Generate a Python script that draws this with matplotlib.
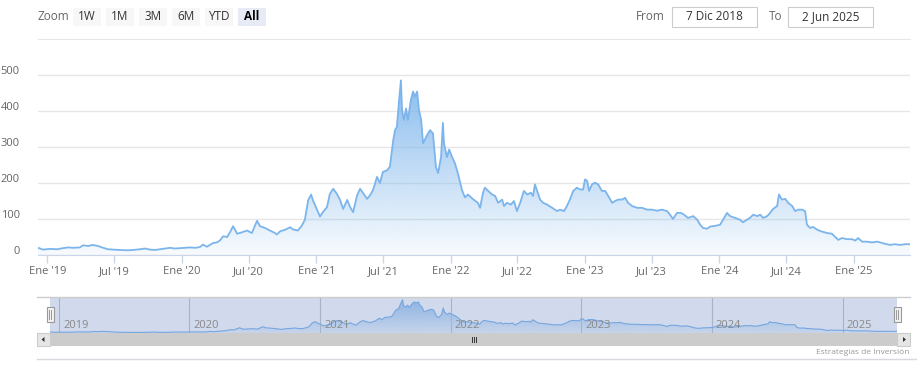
import numpy as np
import pandas as pd
import matplotlib
matplotlib.use("Agg")
import matplotlib.pyplot as plt
import matplotlib.dates as mdates
from matplotlib.colors import LinearSegmentedColormap
from matplotlib.patches import Rectangle, Polygon
from matplotlib.lines import Line2D
from matplotlib.transforms import ScaledTranslation, blended_transform_factory

plt.rcParams['font.family'] = ['Open Sans', 'DejaVu Sans']

# price series
dates = [
    '2018-12-07', '2018-12-21', '2019-01-09', '2019-01-28', '2019-02-13', '2019-02-27',
    '2019-03-12', '2019-03-31', '2019-04-08', '2019-04-22', '2019-05-05', '2019-05-19',
    '2019-06-02', '2019-06-15', '2019-06-29', '2019-07-18', '2019-08-06', '2019-08-22',
    '2019-09-10', '2019-09-24', '2019-10-07', '2019-10-21', '2019-11-03', '2019-11-17',
    '2019-12-01', '2019-12-14', '2019-12-28', '2020-01-10', '2020-01-24', '2020-02-07',
    '2020-02-20', '2020-02-28', '2020-03-10', '2020-03-18', '2020-03-26', '2020-04-06',
    '2020-04-14', '2020-04-23', '2020-05-04', '2020-05-12', '2020-05-20', '2020-05-31',
    '2020-06-13', '2020-06-27', '2020-07-10', '2020-07-24', '2020-08-01', '2020-08-15',
    '2020-08-28', '2020-09-11', '2020-09-16', '2020-09-25', '2020-10-08', '2020-10-22',
    '2020-10-30', '2020-11-12', '2020-11-23', '2020-12-01', '2020-12-10', '2020-12-18',
    '2020-12-23', '2021-01-03', '2021-01-11', '2021-01-19', '2021-01-30', '2021-02-07',
    '2021-02-16', '2021-02-26', '2021-03-07', '2021-03-15', '2021-03-26', '2021-04-03',
    '2021-04-11', '2021-04-22', '2021-04-30', '2021-05-08', '2021-05-19', '2021-05-27',
    '2021-06-04', '2021-06-15', '2021-06-23', '2021-07-01', '2021-07-12', '2021-07-20',
    '2021-07-29', '2021-08-03', '2021-08-08', '2021-08-14', '2021-08-19', '2021-08-22',
    '2021-08-27', '2021-09-02', '2021-09-07', '2021-09-15', '2021-09-21', '2021-09-26',
    '2021-10-02', '2021-10-07', '2021-10-13', '2021-10-18', '2021-10-29', '2021-11-06',
    '2021-11-14', '2021-11-22', '2021-11-28', '2021-12-06', '2021-12-11', '2021-12-14',
    '2021-12-22', '2021-12-28', '2022-01-05', '2022-01-13', '2022-01-21', '2022-02-01',
    '2022-02-09', '2022-02-17', '2022-03-03', '2022-03-16', '2022-03-22', '2022-03-30',
    '2022-04-04', '2022-04-13', '2022-04-24', '2022-05-02', '2022-05-10', '2022-05-21',
    '2022-05-26', '2022-06-03', '2022-06-14', '2022-06-22', '2022-06-30', '2022-07-09',
    '2022-07-19', '2022-07-28', '2022-08-07', '2022-08-13', '2022-08-18', '2022-08-24',
    '2022-09-01', '2022-09-09', '2022-09-20', '2022-10-04', '2022-10-17', '2022-10-25',
    '2022-11-05', '2022-11-13', '2022-11-21', '2022-11-30', '2022-12-10', '2022-12-19',
    '2022-12-27', '2023-01-01', '2023-01-07', '2023-01-12', '2023-01-20', '2023-01-28',
    '2023-02-06', '2023-02-16', '2023-02-25', '2023-03-05', '2023-03-16', '2023-03-24',
    '2023-04-01', '2023-04-12', '2023-04-20', '2023-04-28', '2023-05-09', '2023-05-23',
    '2023-06-05', '2023-06-19', '2023-07-02', '2023-07-16', '2023-07-29', '2023-08-12',
    '2023-08-20', '2023-08-28', '2023-09-08', '2023-09-19', '2023-09-27', '2023-10-08',
    '2023-10-22', '2023-11-02', '2023-11-10', '2023-11-18', '2023-11-29', '2023-12-07',
    '2023-12-21', '2024-01-03', '2024-01-11', '2024-01-22', '2024-01-30', '2024-02-13',
    '2024-02-26', '2024-03-05', '2024-03-16', '2024-03-24', '2024-04-02', '2024-04-13',
    '2024-04-21', '2024-04-29', '2024-05-10', '2024-05-18', '2024-05-26', '2024-06-06',
    '2024-06-11', '2024-06-19', '2024-06-28', '2024-07-06', '2024-07-17', '2024-07-25',
    '2024-08-02', '2024-08-13', '2024-08-21', '2024-08-26', '2024-09-04', '2024-09-12',
    '2024-09-23', '2024-10-06', '2024-10-20', '2024-11-02', '2024-11-10', '2024-11-19',
    '2024-11-29', '2024-12-13', '2024-12-27', '2025-01-04', '2025-01-12', '2025-01-23',
    '2025-02-05', '2025-02-19', '2025-03-05', '2025-03-13', '2025-03-26', '2025-04-09',
    '2025-04-22', '2025-05-06', '2025-05-20', '2025-06-02',
]
values = [
    20, 15, 17, 16, 19, 21,
    20, 21, 27, 25, 28, 25,
    20, 16, 15, 14, 13, 14,
    16, 18, 15, 14, 16, 18,
    20, 18, 19, 20, 21, 20,
    22, 29, 23, 28, 33, 35,
    40, 52, 50, 64, 80, 59,
    63, 68, 61, 95, 80, 75,
    68, 61, 57, 66, 70, 77,
    71, 68, 82, 98, 152, 168,
    152, 126, 107, 119, 133, 170,
    184, 170, 152, 128, 153, 133,
    119, 166, 184, 172, 156, 166,
    180, 217, 200, 231, 235, 245,
    319, 347, 356, 431, 485, 403,
    375, 407, 375, 431, 454, 440,
    454, 403, 375, 310, 333, 347,
    338, 245, 228, 272, 367, 310,
    272, 293, 272, 254, 226, 180,
    160, 168, 155, 145, 131, 173,
    187, 178, 168, 164, 145, 154,
    136, 145, 140, 150, 122, 145,
    178, 168, 173, 164, 196, 178,
    154, 145, 140, 131, 122, 126,
    122, 136, 154, 178, 187, 182,
    182, 210, 206, 178, 196, 201,
    196, 178, 178, 164, 145, 150,
    154, 154, 159, 145, 136, 131,
    131, 126, 126, 123, 126, 122,
    112, 100, 117, 117, 112, 103,
    108, 98, 84, 75, 73, 79,
    81, 84, 98, 117, 108, 103,
    98, 91, 98, 103, 112, 108,
    112, 103, 108, 117, 128, 136,
    168, 154, 156, 145, 136, 122,
    126, 126, 122, 84, 75, 78,
    70, 65, 61, 59, 51, 42,
    47, 44, 44, 40, 47, 37,
    37, 35, 37, 35, 31, 28,
    30, 28, 30, 30,
]

tick_dates = ['2019-01-01', '2019-07-01', '2020-01-01', '2020-07-01', '2021-01-01',
              '2021-07-01', '2022-01-01', '2022-07-01', '2023-01-01', '2023-07-01',
              '2024-01-01', '2024-07-01', '2025-01-01']
tick_labels = ["Ene '19", "Jul '19", "Ene '20", "Jul '20", "Ene '21", "Jul '21",
               "Ene '22", "Jul '22", "Ene '23", "Jul '23", "Ene '24", "Jul '24", "Ene '25"]
y_ticks = [0, 100, 200, 300, 400, 500]
nav_years = ['2019', '2020', '2021', '2022', '2023', '2024', '2025']
zoom_buttons = ['1W', '1M', '3M', '6M', 'YTD', 'All']
date_from = '7 Dic 2018'
date_to = '2 Jun 2025'
credit = 'Estrategias de Inversión'

W, H = 917, 373
blue = (124 / 255, 181 / 255, 236 / 255)

fig = plt.figure(figsize=(W / 100, H / 100), dpi=100)
fig.patch.set_facecolor('white')


def frac(x0, y0, x1, y1):
    return [x0 / W, 1 - y1 / H, (x1 - x0) / W, (y1 - y0) / H]


def px_rect(x0, y0, x1, y1, **kw):
    fig.add_artist(Rectangle((x0 / W, 1 - y1 / H), (x1 - x0) / W, (y1 - y0) / H,
                             transform=fig.transFigure, **kw))


def px_line(xs, ys, **kw):
    fig.add_artist(Line2D([x / W for x in xs], [1 - y / H for y in ys],
                          transform=fig.transFigure, **kw))


def px_text(x, y, s, **kw):
    fig.text(x / W, 1 - y / H, s, **kw)


def gradient_area(a, xs, ys, top_alpha, bottom_alpha):
    poly = a.fill_between(xs, ys, 0, facecolor='none', edgecolor='none')
    cmap = LinearSegmentedColormap.from_list('fade', [(*blue, bottom_alpha), (*blue, top_alpha)])
    im = a.imshow(np.linspace(0, 1, 256).reshape(-1, 1), cmap=cmap, aspect='auto',
                  origin='lower', extent=[xs[0], xs[-1], 0, max(ys)], zorder=1,
                  interpolation='bilinear')
    im.set_clip_path(poly.get_paths()[0], transform=a.transData)


x = mdates.date2num(pd.to_datetime(dates))
tx = mdates.date2num(pd.to_datetime(tick_dates))

# main chart
ax = fig.add_axes(frac(38, 39, 910, 255))
gradient_area(ax, x, values, 0.9, 0.06)
ax.plot(x, values, color='#7cb5ec', lw=1.3, zorder=3)
ax.set_xlim(x[0], x[-1])
ax.set_ylim(0, 600)
ax.set_yticks(y_ticks)
ax.set_yticklabels([str(v) for v in y_ticks])
ax.yaxis.grid(True, color='#e6e6e6', lw=1)
ax.set_axisbelow(True)
ax.tick_params(axis='y', length=0, pad=13, labelsize=8, labelcolor='#666666')
for lbl in ax.get_yticklabels():
    lbl.set_transform(lbl.get_transform() + ScaledTranslation(0, 0.045, fig.dpi_scale_trans))
ax.set_xticks(tx)
ax.set_xticklabels(tick_labels)
ax.tick_params(axis='x', length=6, width=1, color='#ccd6eb', pad=2, labelsize=8,
               labelcolor='#666666')
for s in ['left', 'right']:
    ax.spines[s].set_visible(False)
ax.spines['top'].set_color('#e6e6e6')
ax.spines['bottom'].set_color('#ccd6eb')

# navigator
nav = fig.add_axes(frac(50, 297, 897, 333))
gradient_area(nav, x, values, 0.75, 0.1)
nav.plot(x, values, color='#7cb5ec', lw=0.8, zorder=3)
nav.set_xlim(x[0], x[-1])
nav.set_ylim(5, 525)
nav.set_xticks([])
nav.set_yticks([])
for s in nav.spines.values():
    s.set_visible(False)
ty = mdates.date2num(pd.to_datetime([y + '-01-01' for y in nav_years]))
for xv, yr in zip(ty, nav_years):
    nav.axvline(xv, color='#c8c8c8', lw=0.8, zorder=2)
    nav.text(xv, 0.22, yr, transform=blended_transform_factory(nav.transData, nav.transAxes)
             + ScaledTranslation(0.04, 0, fig.dpi_scale_trans),
             ha='left', va='center', fontsize=8, color='#888888', zorder=5)
nav.add_patch(Rectangle((0, 0), 1, 1, transform=nav.transAxes,
                        facecolor=(102 / 255, 133 / 255, 194 / 255, 0.3), edgecolor='none', zorder=4))

px_line([37, 910], [297, 297], color='#cccccc', lw=1)

# scrollbar
px_rect(37, 333, 910, 346, facecolor='#cccccc', edgecolor='none')
px_rect(37, 333, 50, 346, facecolor='#e6e6e6', edgecolor='#cccccc', lw=0.8)
px_rect(897, 333, 910, 346, facecolor='#e6e6e6', edgecolor='#cccccc', lw=0.8)
fig.add_artist(Polygon([[41.5 / W, 1 - 339.5 / H], [44.5 / W, 1 - 337 / H], [44.5 / W, 1 - 342 / H]],
                       closed=True, transform=fig.transFigure, facecolor='#333333', edgecolor='none'))
fig.add_artist(Polygon([[906 / W, 1 - 339.5 / H], [903 / W, 1 - 337 / H], [903 / W, 1 - 342 / H]],
                       closed=True, transform=fig.transFigure, facecolor='#333333', edgecolor='none'))
for gx in (471.5, 473.5, 475.5):
    px_line([gx, gx], [337, 342], color='#333333', lw=0.7)

# navigator handles
for hx in (50, 897):
    px_rect(hx - 3.5, 307, hx + 3.5, 322, facecolor='#f2f2f2', edgecolor='#999999', lw=0.8)
    px_line([hx - 1, hx - 1], [310, 319], color='#999999', lw=0.7)
    px_line([hx + 1, hx + 1], [310, 319], color='#999999', lw=0.7)

# bottom rule + credits
px_line([37, 917], [358.5, 358.5], color='#d8d8e0', lw=1)
px_text(909, 352, credit, ha='right', va='center', fontsize=6, color='#999999')

# range selector
px_text(38, 17, 'Zoom', ha='left', va='center', fontsize=8.5, color='#666666')
for i, b in enumerate(zoom_buttons):
    bx = 73 + 33 * i
    selected = b == 'All'
    px_rect(bx, 8, bx + 28, 26, facecolor='#e6ebf5' if selected else '#f7f7f7', edgecolor='none')
    px_text(bx + 14, 17, b, ha='center', va='center', fontsize=8.5, color='#000000' if selected else '#333333',
            fontweight='bold' if selected else 'normal')

px_text(665, 17, 'From', ha='right', va='center', fontsize=8.5, color='#666666')
px_rect(672, 7.5, 757, 27, facecolor='white', edgecolor='#cccccc', lw=0.8)
px_text(714.5, 17, date_from, ha='center', va='center', fontsize=8.5, color='#333333')
px_text(782, 17, 'To', ha='right', va='center', fontsize=8.5, color='#666666')
px_rect(788, 7.5, 873, 27, facecolor='white', edgecolor='#cccccc', lw=0.8)
px_text(830.5, 17, date_to, ha='center', va='center', fontsize=8.5, color='#333333')

fig.savefig('out.png', dpi=100)
